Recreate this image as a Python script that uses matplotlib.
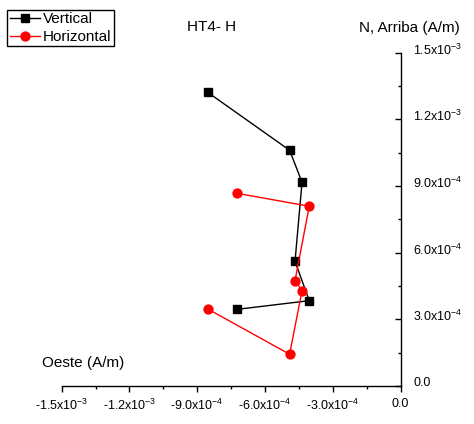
import matplotlib
matplotlib.use("Agg")
import matplotlib.pyplot as plt
from matplotlib.ticker import MultipleLocator, FixedLocator
import matplotlib.transforms as mtransforms

plt.rcParams['font.family'] = ['Liberation Sans', 'DejaVu Sans']
plt.rcParams['mathtext.default'] = 'regular'

# Data (A/m)
east = [-8.54e-4, -4.91e-4, -4.36e-4, -4.67e-4, -4.04e-4, -7.23e-4]
vertical = [1.322e-3, 1.061e-3, 9.17e-4, 5.61e-4, 3.84e-4, 3.45e-4]
horizontal = [3.47e-4, 1.43e-4, 4.29e-4, 4.74e-4, 8.09e-4, 8.67e-4]

xticks = [-1.5e-3, -1.2e-3, -9.0e-4, -6.0e-4, -3.0e-4, 0.0]
xticklabels = [r'-1.5x10$^{-3}$', r'-1.2x10$^{-3}$', r'-9.0x10$^{-4}$',
               r'-6.0x10$^{-4}$', r'-3.0x10$^{-4}$', '0.0']
yticks = [0.0, 3.0e-4, 6.0e-4, 9.0e-4, 1.2e-3, 1.5e-3]
yticklabels = ['0.0', r'3.0x10$^{-4}$', r'6.0x10$^{-4}$', r'9.0x10$^{-4}$',
               r'1.2x10$^{-3}$', r'1.5x10$^{-3}$']

W, H = 474, 424
fig = plt.figure(figsize=(W / 100, H / 100), dpi=100)
left, right, top, bottom = 61.7, 400.5, 52.7, 386.0
ax = fig.add_axes([left / W, 1 - bottom / H, (right - left) / W, (bottom - top) / H])

ax.plot(east, vertical, color='black', lw=1.0, marker='s', ms=5.8,
        mfc='black', mec='black', label='Vertical', clip_on=False)
ax.plot(east, horizontal, color='red', lw=1.0, marker='o', ms=6.4,
        mfc='red', mec='red', label='Horizontal', clip_on=False)

ax.set_xlim(-1.5e-3, 0)
ax.set_ylim(0, 1.5e-3)

for s in ['top', 'left']:
    ax.spines[s].set_visible(False)
for s in ['bottom', 'right']:
    ax.spines[s].set_linewidth(1.0)
    ax.spines[s].set_color('black')

ax.xaxis.set_major_locator(FixedLocator(xticks))
ax.set_xticklabels(xticklabels)
ax.xaxis.set_minor_locator(MultipleLocator(1.5e-4))
ax.yaxis.tick_right()
ax.yaxis.set_major_locator(FixedLocator(yticks))
ax.set_yticklabels(yticklabels)
ax.yaxis.set_minor_locator(MultipleLocator(1.5e-4))

ax.tick_params(axis='x', which='major', direction='out', length=4.5, width=1,
               labelsize=9, pad=4)
ax.tick_params(axis='x', which='minor', direction='out', length=2.5, width=1)
ax.tick_params(axis='y', which='major', direction='in', length=4.5, width=1,
               labelsize=9, pad=9, left=False, right=True)
ax.tick_params(axis='y', which='minor', direction='in', length=2.5, width=1,
               left=False, right=True)

off = mtransforms.ScaledTranslation(0, 4 / 100, fig.dpi_scale_trans)
for lab in ax.get_yticklabels():
    lab.set_transform(lab.get_transform() + off)

fig.text(212 / W, 1 - 27 / H, 'HT4- H', ha='center', va='center', fontsize=11)
fig.text(409 / W, 1 - 28 / H, 'N, Arriba (A/m)', ha='center', va='center', fontsize=11)
fig.text(41.7 / W, 1 - 363 / H, 'Oeste (A/m)', ha='left', va='center', fontsize=11)

leg = ax.legend(loc='upper left', bbox_to_anchor=(7.3 / W, 1 - 10 / H),
                bbox_transform=fig.transFigure, borderaxespad=0, fancybox=False,
                edgecolor='black', framealpha=1, fontsize=11, handlelength=2.0,
                handletextpad=0.2, borderpad=0.15, labelspacing=0.25)
leg.get_frame().set_linewidth(1.0)

fig.savefig('out.png', dpi=100)
